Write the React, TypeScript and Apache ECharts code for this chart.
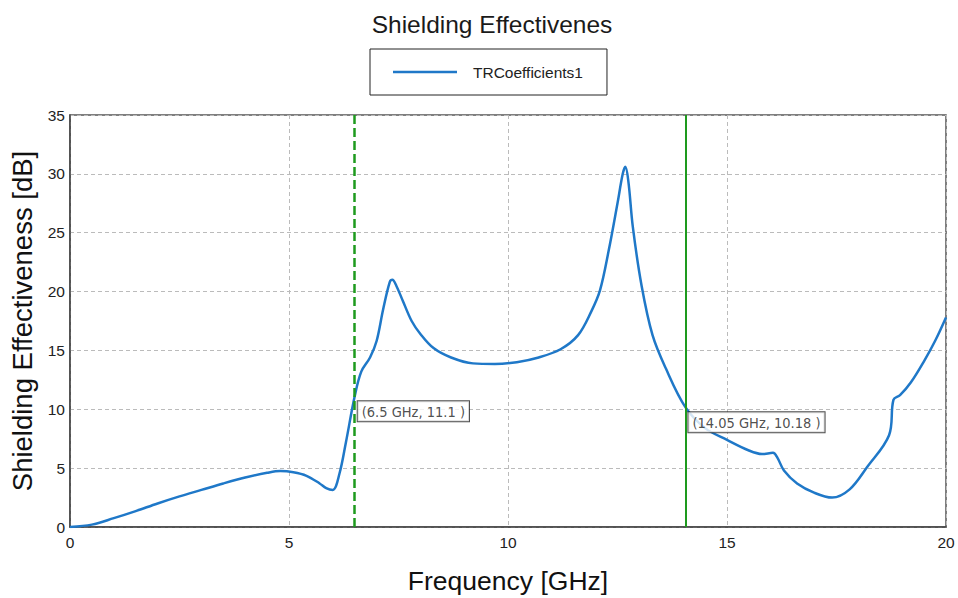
import React, { useEffect, useRef } from "react";
import * as echarts from "echarts";

const seriesName = "TRCoefficients1";
const freq = [0, 0.5, 1, 1.5, 2, 2.5, 3, 3.5, 4, 4.5, 4.8, 5.1, 5.4, 5.7, 5.85, 6.0, 6.15, 6.3, 6.5, 6.65, 6.85, 7.0, 7.15, 7.3, 7.36, 7.45, 7.6, 7.8, 8.0, 8.3, 8.7, 9.2, 9.7, 10.2, 10.7, 11.2, 11.6, 11.9, 12.1, 12.3, 12.5, 12.62, 12.68, 12.75, 12.85, 13.05, 13.3, 13.6, 14.05, 14.5, 15.0, 15.5, 15.8, 16.05, 16.15, 16.3, 16.6, 17.0, 17.4, 17.8, 18.2, 18.7, 18.8, 18.95, 19.2, 19.5, 19.75, 20];
const se = [0, 0.2, 0.75, 1.35, 2.0, 2.6, 3.15, 3.7, 4.2, 4.6, 4.75, 4.65, 4.35, 3.7, 3.3, 3.15, 4.5, 7.2, 11.1, 13.2, 14.4, 15.8, 18.5, 20.8, 21.0, 20.5, 19.2, 17.5, 16.4, 15.2, 14.4, 13.9, 13.85, 14.0, 14.4, 15.1, 16.3, 18.3, 20.1, 23.5, 27.5, 30.0, 30.6, 29.3, 25.5, 20.5, 16.3, 13.5, 10.18, 8.4, 7.4, 6.5, 6.2, 6.3, 5.9, 4.8, 3.7, 2.9, 2.5, 3.2, 5.1, 7.8, 10.8, 11.2, 12.3, 14.1, 15.8, 17.8];
const markerX = [6.5, 14.05];
const markerY = [11.1, 10.18];
const markerLabels = ["(6.5 GHz, 11.1 )", "(14.05 GHz, 10.18 )"];
const markerDashed = [true, false];
const xTicks = [0, 5, 10, 15, 20];
const yTicks = [0, 5, 10, 15, 20, 25, 30, 35];

const mainFont = "'Liberation Sans', Arial, sans-serif";

export default function App() {
  const ref = useRef<HTMLDivElement>(null);
  useEffect(() => {
    if (!ref.current) return;
    const chart = echarts.init(ref.current, undefined, { renderer: "svg" });
    const lineData = freq.map((f, i) => [f, se[i]]);
    chart.setOption({
      animation: false,
      backgroundColor: "#ffffff",
      title: {
        text: "Shielding Effectivenes",
        left: 487,
        textAlign: "center",
        top: 7,
        textStyle: { fontFamily: mainFont, fontSize: 24.5, fontWeight: "normal", color: "#1a1a1a" },
      },
      legend: {
        data: [{ name: seriesName, icon: "rect" }],
        left: 370,
        top: 49,
        padding: [13, 24, 13, 23],
        itemWidth: 64,
        itemHeight: 2.5,
        borderColor: "#222",
        borderWidth: 1,
        backgroundColor: "#fff",
        textStyle: { fontFamily: mainFont, fontSize: 15.5, color: "#222", padding: [0, 0, 0, 11], lineHeight: 20 },
      },
      grid: {
        left: 70,
        right: 12,
        top: 115,
        bottom: 71,
        show: true,
        containLabel: false,
        outerBoundsMode: "none",
        borderColor: "#555",
        borderWidth: 1.5,
        backgroundColor: "#fff",
      },
      xAxis: {
        type: "value",
        min: xTicks[0],
        max: xTicks[xTicks.length - 1],
        interval: 5,
        name: "Frequency [GHz]",
        nameLocation: "middle",
        nameGap: 40,
        nameTextStyle: { fontFamily: mainFont, fontSize: 26.5, color: "#111" },
        axisLine: { show: true, lineStyle: { color: "#444", width: 1.5 } },
        axisTick: { show: false },
        axisLabel: { fontFamily: mainFont, fontSize: 15.5, color: "#222", margin: 7 },
        splitLine: { show: true, lineStyle: { color: "#bbb", type: [4, 3], width: 1 } },
      },
      yAxis: {
        type: "value",
        min: yTicks[0],
        max: yTicks[yTicks.length - 1],
        interval: 5,
        name: "Shielding Effectiveness [dB]",
        nameLocation: "middle",
        nameGap: 33,
        nameTextStyle: { fontFamily: mainFont, fontSize: 27.5, color: "#111" },
        axisLine: { show: true, lineStyle: { color: "#444", width: 1.5 } },
        axisTick: { show: false },
        axisLabel: { fontFamily: mainFont, fontSize: 15.5, color: "#222", margin: 5 },
        splitLine: { show: true, lineStyle: { color: "#bbb", type: [4, 3], width: 1 } },
      },
      series: [
        {
          name: seriesName,
          type: "line",
          data: lineData,
          showSymbol: false,
          symbol: "none",
          smooth: 0.35,
          lineStyle: { color: "#1f78c8", width: 2.5 },
          itemStyle: { color: "#1f78c8" },
          z: 3,
          markLine: {
            silent: true,
            symbol: "none",
            label: { show: false },
            data: markerX.map((x, i) => ({
              xAxis: x,
              lineStyle: {
                color: "#1e9a1e",
                width: markerDashed[i] ? 2.5 : 2,
                type: markerDashed[i] ? [9, 4] : "solid",
              },
            })),
          },
        },
        {
          name: "markers",
          type: "scatter",
          data: markerX.map((x, i) => [x, markerY[i]]),
          symbolSize: 0,
          z: 5,
          label: {
            show: true,
            position: [3, 5],
            align: "left",
            verticalAlign: "top",
            formatter: (p: any) => markerLabels[p.dataIndex],
            fontFamily: "'DejaVu Sans Condensed', 'DejaVu Sans', Tahoma, sans-serif",
            fontSize: 14.5,
            color: "#222",
            backgroundColor: "#fff",
            borderColor: "#222",
            borderWidth: 1,
            padding: [3, 4, 2, 4],
          },
        },
      ],
    });
    return () => chart.dispose();
  }, []);
  return <div ref={ref} style={{ width: 958, height: 598, position: "absolute", left: 0, top: 0 }} />;
}
